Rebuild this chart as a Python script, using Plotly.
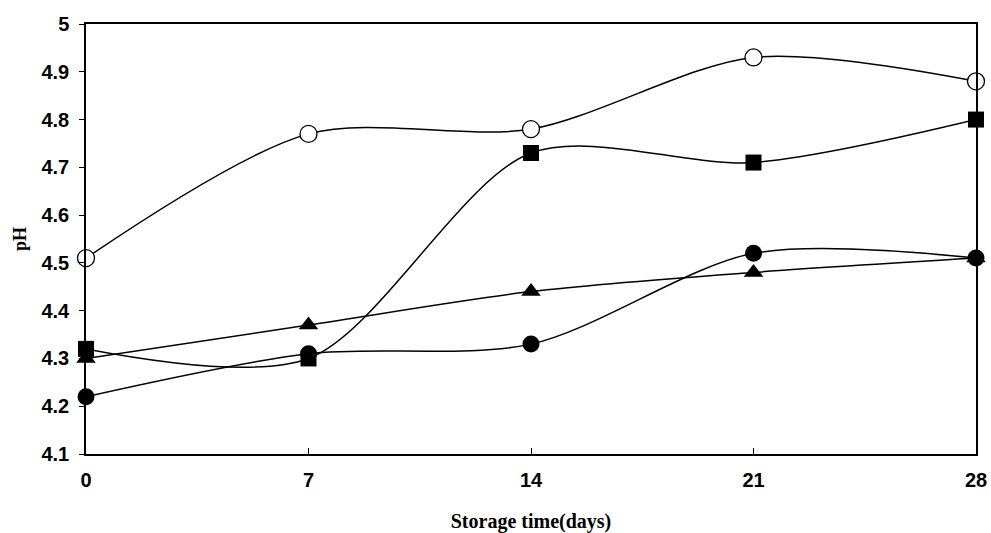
import plotly.graph_objects as go

days = [0, 7, 14, 21, 28]
open_circle = [4.51, 4.77, 4.78, 4.93, 4.88]
filled_square = [4.32, 4.30, 4.73, 4.71, 4.80]
filled_triangle = [4.30, 4.37, 4.44, 4.48, 4.51]
filled_circle = [4.22, 4.31, 4.33, 4.52, 4.51]

y_ticks = [4.1, 4.2, 4.3, 4.4, 4.5, 4.6, 4.7, 4.8, 4.9, 5.0]
y_tick_text = ["4.1", "4.2", "4.3", "4.4", "4.5", "4.6", "4.7", "4.8", "4.9", "5"]

series = [
    (open_circle, dict(symbol="circle", color="white", size=17, line=dict(color="black", width=1.3))),
    (filled_square, dict(symbol="square", color="black", size=16, line=dict(color="black", width=0))),
    (filled_triangle, dict(symbol="triangle-up", color="black", size=17, line=dict(color="black", width=0))),
    (filled_circle, dict(symbol="circle", color="black", size=17, line=dict(color="black", width=0))),
]

fig = go.Figure()
for vals, mk in series:
    fig.add_trace(go.Scatter(
        x=days, y=vals, mode="lines+markers",
        line=dict(color="black", width=1.5, shape="spline", smoothing=0.85),
        marker=mk, cliponaxis=False, showlegend=False,
    ))

tick_font = dict(family="Liberation Sans, Arial", size=20, color="black", weight="bold")
xtitle_font = dict(family="Liberation Serif, Times New Roman", size=20, color="black", weight="bold")
ytitle_font = dict(family="Liberation Serif, Times New Roman", size=18, color="black", weight="bold")

fig.update_layout(
    width=991, height=533,
    margin=dict(l=86, r=15, t=24, b=79),
    paper_bgcolor="white", plot_bgcolor="white",
    xaxis=dict(
        range=[0, 28], tickvals=days, ticktext=[str(d) for d in days],
        ticks="inside", ticklen=6, tickcolor="black", tickwidth=1,
        showline=True, linecolor="black", linewidth=1.5, mirror=True,
        showgrid=False, zeroline=False, tickfont=tick_font, ticklabelstandoff=7,
        automargin=False,
        title=dict(text="Storage time(days)", font=xtitle_font, standoff=26),
    ),
    yaxis=dict(
        range=[4.1, 5.0], tickvals=y_ticks, ticktext=y_tick_text,
        ticks="outside", ticklen=5, tickcolor="black", tickwidth=1,
        showline=True, linecolor="black", linewidth=1.5, mirror=True,
        showgrid=False, zeroline=False, tickfont=tick_font, ticklabelstandoff=6,
        automargin=False,
        title=dict(text="pH", font=ytitle_font, standoff=10),
    ),
)

fig.write_html("out.html")
